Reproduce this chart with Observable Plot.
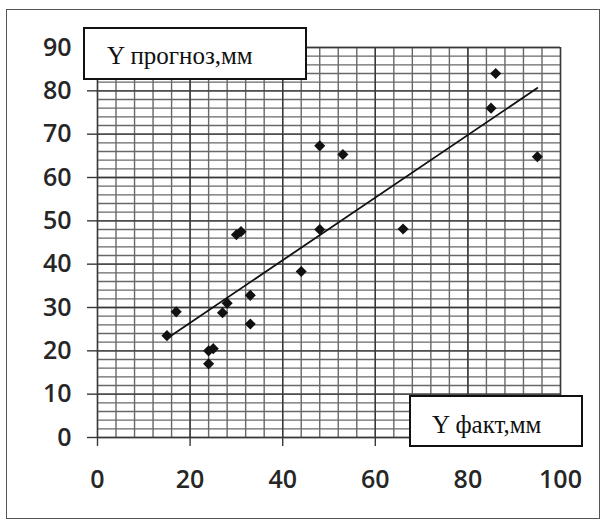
<!DOCTYPE html>
<html>
<head>
<meta charset="utf-8">
<script src="https://cdn.jsdelivr.net/npm/d3@7"></script>
<script src="https://cdn.jsdelivr.net/npm/@observablehq/plot@0.6"></script>
<style>
  html, body { margin: 0; padding: 0; background: #fff; }
  #wrap { position: relative; width: 607px; height: 525px; overflow: hidden; }
  #wrap svg { position: absolute; left: 0; top: 0; }
  .frame { position: absolute; left: 6px; top: 9px; width: 594px; height: 510px; border: 1px solid #555; box-sizing: border-box; }
  .lbl { position: absolute; background: #fff; border: 2px solid #111; box-sizing: border-box; }
  .lbl span { position: absolute; font-family: "Liberation Serif", "Times New Roman", serif; font-size: 25px; line-height: 1; color: #111; white-space: nowrap; }
</style>
</head>
<body>
<div id="wrap">
  <div class="frame"></div>
</div>
<script>
// Data
const yFact     = [15, 17, 24, 25, 24, 27, 28, 30, 31, 33, 33, 44, 48, 48, 53, 66, 85, 86, 95];
const yForecast = [23.5, 29, 20, 20.5, 17, 28.8, 31, 46.8, 47.5, 32.8, 26.2, 38.3, 48, 67.3, 65.3, 48.1, 76, 84, 64.8];
const xTicks = [0, 20, 40, 60, 80, 100];
const yTicks = [0, 10, 20, 30, 40, 50, 60, 70, 80, 90];
const yLabelText = "Y прогноз,мм";
const xLabelText = "Y факт,мм";

const points = yFact.map((x, i) => ({x, y: yForecast[i]}));
const xMinor = d3.range(0, 101, 4);
const yMinor = d3.range(0, 91, 2);

const chart = Plot.plot({
  width: 607,
  height: 525,
  marginLeft: 97,
  marginRight: 47,
  marginTop: 47,
  marginBottom: 88,
  x: {domain: [0, 100]},
  y: {domain: [0, 90]},
  style: {fontFamily: "'Open Sans', sans-serif", fontSize: "25px", fontWeight: 600, color: "#262626", background: "transparent"},
  marks: [
    Plot.ruleX(xMinor, {stroke: "#686868", strokeWidth: 1.4}),
    Plot.ruleY(yMinor, {stroke: "#686868", strokeWidth: 1.4}),
    Plot.ruleX(xTicks, {stroke: "#383838", strokeWidth: 1.4}),
    Plot.ruleY(yTicks, {stroke: "#383838", strokeWidth: 1.4}),
    Plot.axisX({ticks: xTicks, tickSize: 9, tickPadding: 24, label: null, stroke: "#383838", strokeWidth: 1.4}),
    Plot.axisY({ticks: yTicks, tickSize: 10, tickPadding: 16, label: null, stroke: "#383838", strokeWidth: 1.4}),
    Plot.linearRegressionY(points, {x: "x", y: "y", ci: 0, stroke: "#111", strokeWidth: 1.8}),
    Plot.dot(points, {x: "x", y: "y", symbol: "diamond2", r: 5, fill: "#111", stroke: "none"})
  ]
});

const wrap = document.getElementById("wrap");
wrap.appendChild(chart);

function addLabel(text, left, top, width, height, textLeft, textTop) {
  const box = document.createElement("div");
  box.className = "lbl";
  Object.assign(box.style, {left: left + "px", top: top + "px", width: width + "px", height: height + "px"});
  const span = document.createElement("span");
  span.textContent = text;
  Object.assign(span.style, {left: textLeft + "px", top: textTop + "px"});
  box.appendChild(span);
  wrap.appendChild(box);
}
addLabel(yLabelText, 83, 27, 224, 53, 22, 14);
addLabel(xLabelText, 409, 395, 174, 52, 21, 15);
</script>
</body>
</html>
